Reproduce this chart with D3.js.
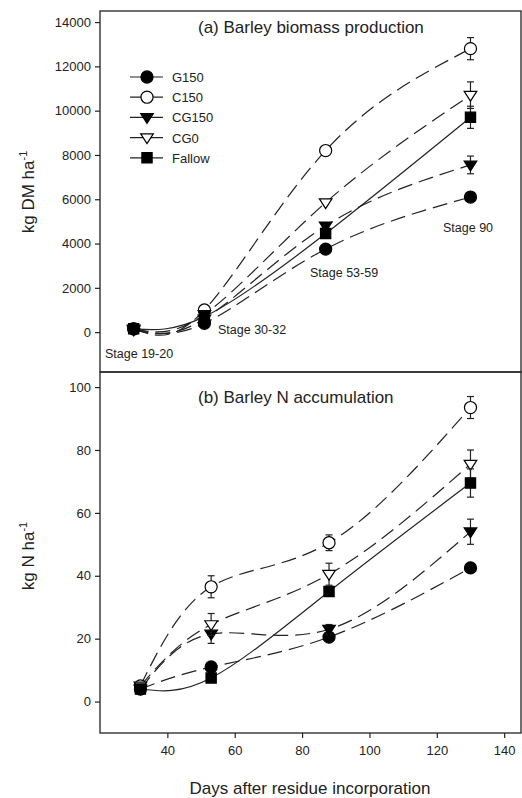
<!DOCTYPE html>
<html>
<head>
<meta charset="utf-8">
<script src="https://cdn.jsdelivr.net/npm/d3@7"></script>
<style>
body { margin: 0; background: #fff; }
svg { font-family: "Liberation Sans", Arial, sans-serif; }
.axis path, .axis line { stroke: #222; stroke-width: 1.2; }
.axis text { font-size: 13px; fill: #222; }
</style>
</head>
<body>
<svg id="chart" width="522" height="798"></svg>
<script>
var daysA = [30, 51, 87, 130];
var daysB = [32, 53, 88, 130];

var treatments = ['G150', 'C150', 'CG150', 'CG0', 'Fallow'];

// (a) biomass, kg DM/ha
var bioG150   = [150, 400, 3750, 6100];
var bioC150   = [150, 1000, 8200, 12800];
var bioCG150  = [100, 600, 4800, 7550];
var bioCG0    = [150, 800, 5850, 10700];
var bioFallow = [150, 700, 4450, 9700];
var bioErr = {
    G150:   [0, 0, 0, 0],
    C150:   [0, 0, 0, 500],
    CG150:  [0, 0, 0, 400],
    CG0:    [0, 0, 0, 600],
    Fallow: [0, 0, 0, 500]
};

// (b) N accumulation, kg N/ha
var nG150   = [4, 11, 20.5, 42.5];
var nC150   = [5, 36.5, 50.5, 93.5];
var nCG150  = [4, 21.5, 23, 54];
var nCG0    = [5, 24.5, 40.5, 75.5];
var nFallow = [4, 7.5, 35, 69.5];
var nErr = {
    G150:   [0, 1, 1, 1],
    C150:   [0, 3.5, 2.5, 3.5],
    CG150:  [0, 3, 1.5, 4],
    CG0:    [0, 3.5, 3.5, 4.5],
    Fallow: [0, 1, 1, 4.5]
};

var yTicksA = [0, 2000, 4000, 6000, 8000, 10000, 12000, 14000];
var yTicksB = [0, 20, 40, 60, 80, 100];
var xTicks = [40, 60, 80, 100, 120, 140];

var stageLabels = ['Stage 19-20', 'Stage 30-32', 'Stage 53-59', 'Stage 90'];

var svg = d3.select('#chart');

var x0 = 100, x1 = 521;
var x = d3.scaleLinear().domain([20, 145]).range([x0, x1]);
var yA = d3.scaleLinear().domain([-1800, 14500]).range([372, 11]);
var yB = d3.scaleLinear().domain([-10, 104.8]).range([733, 372]);

var styles = {
    G150:   {fill: '#000', shape: d3.symbolCircle,   dash: '15,7'},
    C150:   {fill: '#fff', shape: d3.symbolCircle,   dash: '15,7'},
    CG150:  {fill: '#000', shape: 'down',            dash: '15,7'},
    CG0:    {fill: '#fff', shape: 'down',            dash: '15,7'},
    Fallow: {fill: '#000', shape: d3.symbolSquare,   dash: null}
};

function marker(g, name, cx, cy) {
    var s = styles[name];
    if (s.shape == 'down') {
        var r = 6.3;
        g.append('path')
            .attr('d', 'M' + (cx - r) + ',' + (cy - r * 0.6) + 'L' + (cx + r) + ',' + (cy - r * 0.6) + 'L' + cx + ',' + (cy + r * 0.95) + 'Z')
            .attr('fill', s.fill).attr('stroke', '#000').attr('stroke-width', 1.2);
    }
    else {
        var size = s.shape == d3.symbolSquare ? 105 : 115;
        g.append('path')
            .attr('d', d3.symbol().type(s.shape).size(size)())
            .attr('transform', 'translate(' + cx + ',' + cy + ')')
            .attr('fill', s.fill).attr('stroke', '#000').attr('stroke-width', 1.2);
    }
}

function drawPanel(days, y, series, errs, ticks, showX) {
    var g = svg.append('g');

    // frame
    g.append('rect')
        .attr('x', x0).attr('y', y.range()[1])
        .attr('width', x1 - x0).attr('height', y.range()[0] - y.range()[1])
        .attr('fill', 'none').attr('stroke', '#222').attr('stroke-width', 1.3);

    g.append('g').classed('axis', true)
        .attr('transform', 'translate(' + x0 + ',0)')
        .call(d3.axisLeft(y).tickValues(ticks).tickFormat(d3.format('d'))
            .tickSize(5).tickPadding(4).tickSizeOuter(0))
        .select('.domain').remove();

    if (showX) {
        g.append('g').classed('axis', true)
            .attr('transform', 'translate(0,' + y.range()[0] + ')')
            .call(d3.axisBottom(x).tickValues(xTicks).tickFormat(d3.format('d'))
                .tickSize(5).tickPadding(8).tickSizeOuter(0))
            .select('.domain').remove();
    }

    var line = d3.line()
        .x(function(d, i) { return x(days[i]); })
        .y(function(d) { return y(d); })
        .curve(d3.curveNatural);

    treatments.forEach(function(name) {
        g.append('path')
            .attr('d', line(series[name]))
            .attr('fill', 'none')
            .attr('stroke', '#222')
            .attr('stroke-width', 1.2)
            .attr('stroke-dasharray', styles[name].dash);
    });

    treatments.forEach(function(name) {
        series[name].forEach(function(v, i) {
            var e = errs[name][i];
            var cx = x(days[i]);
            if (e > 0) {
                g.append('line')
                    .attr('x1', cx).attr('x2', cx)
                    .attr('y1', y(v - e)).attr('y2', y(v + e))
                    .attr('stroke', '#222').attr('stroke-width', 1.2);
                [v - e, v + e].forEach(function(w) {
                    g.append('line')
                        .attr('x1', cx - 3.5).attr('x2', cx + 3.5)
                        .attr('y1', y(w)).attr('y2', y(w))
                        .attr('stroke', '#222').attr('stroke-width', 1.2);
                });
            }
            marker(g, name, cx, y(v));
        });
    });
    return g;
}

drawPanel(daysA, yA,
    {G150: bioG150, C150: bioC150, CG150: bioCG150, CG0: bioCG0, Fallow: bioFallow},
    bioErr, yTicksA, false);
drawPanel(daysB, yB,
    {G150: nG150, C150: nC150, CG150: nCG150, CG0: nCG0, Fallow: nFallow},
    nErr, yTicksB, true);

// panel titles
svg.append('text').attr('x', 198).attr('y', 33)
    .style('font-size', '17px').attr('fill', '#222')
    .text('(a) Barley biomass production');
svg.append('text').attr('x', 198).attr('y', 403)
    .style('font-size', '17px').attr('fill', '#222')
    .text('(b) Barley N accumulation');

// stage labels in panel (a)
var stagePos = [[105, 358], [218, 334], [310, 277], [443, 232]];
stageLabels.forEach(function(t, i) {
    svg.append('text')
        .attr('x', stagePos[i][0]).attr('y', stagePos[i][1])
        .style('font-size', '12.5px').attr('fill', '#222')
        .text(t);
});

// legend
var legend = svg.append('g');
treatments.forEach(function(name, i) {
    var ly = 77 + i * 20.2;
    legend.append('line')
        .attr('x1', 130).attr('x2', 163).attr('y1', ly).attr('y2', ly)
        .attr('stroke', '#222').attr('stroke-width', 1.2);
    marker(legend, name, 147, ly);
    legend.append('text')
        .attr('x', 172).attr('y', ly + 5)
        .style('font-size', '13px').attr('fill', '#222')
        .text(name);
});

// axis titles
function yTitle(cy, main) {
    var t = svg.append('text')
        .attr('transform', 'translate(34,' + cy + ') rotate(-90)')
        .attr('text-anchor', 'middle')
        .style('font-size', '17px').attr('fill', '#222');
    t.append('tspan').text(main);
    t.append('tspan').attr('dy', -7).style('font-size', '11px').text('-1');
}
yTitle(192, 'kg DM ha');
yTitle(556, 'kg N ha');

svg.append('text')
    .attr('x', 310).attr('y', 794)
    .attr('text-anchor', 'middle')
    .style('font-size', '17px').attr('fill', '#222')
    .text('Days after residue incorporation');
</script>
</body>
</html>
